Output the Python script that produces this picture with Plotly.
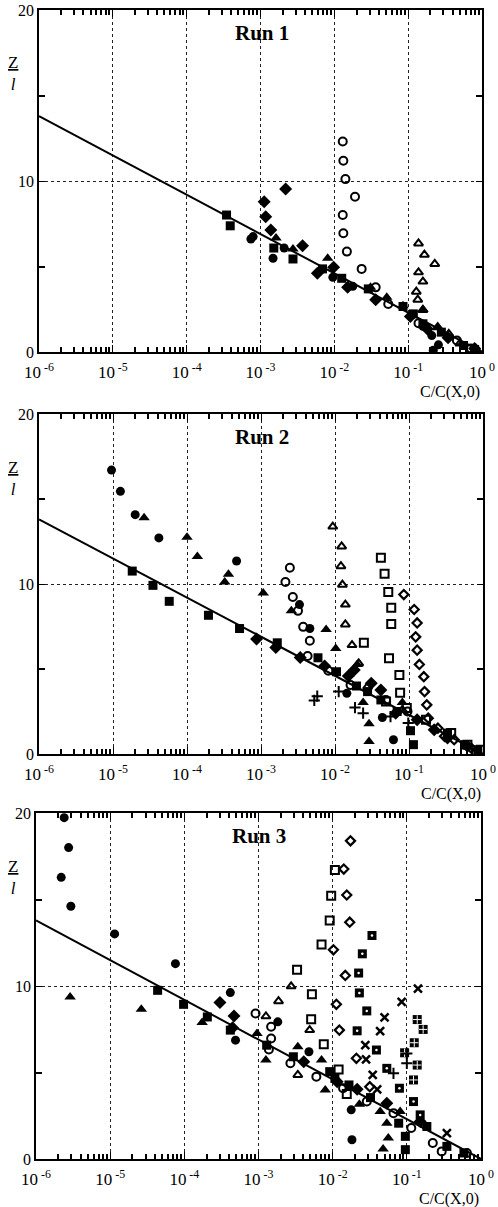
import plotly.graph_objects as go

# ---------------- data (x stored as log10 of C/C(X,0)) ----------------
line_logc = [-6.0, 0.0]
line_z = [13.8, 0.0]

# Run 1
r1_fcirc_logc = [-3.13, -3.10, -2.83, -2.68, -2.02, -1.75, -0.80, -0.68, -0.59, -0.66]
r1_fcirc_z = [6.61, 6.75, 5.48, 6.08, 4.37, 3.84, 1.50, 0.96, 0.42, 0.10]
r1_ftri_logc = [-2.79, -2.56, -2.09, -1.51, -1.29, -1.07, -0.80, -0.60, -0.08]
r1_ftri_z = [6.67, 6.02, 5.48, 3.78, 3.20, 2.71, 2.48, 1.45, 0.20]
r1_otri_logc = [-0.86, -0.78, -0.64, -0.86, -0.80, -0.89, -0.87, -0.80, -0.60, -0.45, -0.30]
r1_otri_z = [6.35, 5.69, 5.15, 4.66, 4.12, 3.53, 3.06, 2.46, 1.45, 1.06, 0.50]
r1_ocirc_logc = [-1.886, -1.878, -1.85, -1.72, -1.886, -1.878, -1.83, -1.63, -1.44, -1.27, -0.86, -0.34, -0.15]
r1_ocirc_z = [12.31, 11.18, 10.11, 9.08, 8.01, 6.94, 5.87, 4.86, 3.78, 2.81, 1.68, 0.67, 0.20]
r1_fsq_logc = [-3.46, -3.41, -2.82, -2.56, -2.16, -1.90, -1.54, -1.07, -0.93, -0.80, -0.55, -0.25, -0.10]
r1_fsq_z = [8.01, 7.38, 6.08, 5.44, 4.86, 4.31, 3.69, 2.66, 2.23, 1.65, 1.16, 0.38, 0.15]
r1_fdia_logc = [-2.95, -2.93, -2.86, -2.66, -2.43, -2.23, -2.01, -1.82, -1.44, -0.97, -0.74, -0.46, -0.10]
r1_fdia_z = [8.79, 7.91, 7.13, 9.53, 6.22, 4.60, 4.95, 3.78, 3.05, 2.07, 1.35, 0.84, 0.20]

# Run 2
r2_fcirc_logc = [-5.02, -4.90, -4.70, -4.38, -3.33, -2.48, -2.34, -1.84, -1.36, -1.21]
r2_fcirc_z = [16.70, 15.45, 14.08, 12.71, 11.35, 8.79, 7.38, 3.57, 2.15, 0.84]
r2_ftri_logc = [-4.58, -4.00, -3.86, -3.44, -3.49, -2.97, -2.59, -2.12, -1.99, -1.70, -1.62, -1.54, -1.54, -1.09]
r2_ftri_z = [13.89, 12.75, 11.62, 10.57, 10.12, 9.47, 8.42, 7.32, 6.21, 5.27, 3.03, 1.78, 0.74, 3.03]
r2_otri_logc = [-2.03, -1.91, -1.92, -1.90, -1.86, -1.86, -1.77, -1.68, -1.56, -1.09]
r2_otri_z = [13.38, 12.21, 11.05, 9.96, 8.79, 7.62, 6.41, 5.33, 3.96, 2.60]
r2_ocirc_logc = [-2.61, -2.67, -2.57, -2.50, -2.43, -2.34, -2.37, -2.09, -1.79, -1.31, -1.02]
r2_ocirc_z = [10.96, 10.12, 9.24, 8.42, 7.48, 6.66, 5.76, 4.90, 4.06, 3.18, 2.50]
r2_fsq_logc = [-4.74, -4.46, -4.24, -3.71, -3.29, -2.78, -2.23, -1.98, -1.71, -1.56, -1.38, -1.16, -0.98, -0.94, -0.48, -0.25, -0.07]
r2_fsq_z = [10.76, 9.92, 8.98, 8.16, 7.38, 6.54, 5.66, 4.84, 4.00, 3.67, 3.18, 2.50, 1.37, 0.55, 1.23, 0.55, 0.25]
r2_fdia_logc = [-3.06, -2.80, -2.47, -2.14, -1.82, -1.74, -1.51, -1.38, -1.18, -0.89, -0.66, -0.48, -0.21]
r2_fdia_z = [6.76, 6.27, 5.68, 5.18, 4.59, 4.94, 4.16, 3.77, 2.40, 2.01, 1.43, 0.94, 0.45]
r2_osq_logc = [-1.38, -1.33, -1.28, -1.24, -1.24, -1.61, -1.27, -1.13, -1.12, -1.31, -1.03, -0.77, -0.43, -0.21, -0.03]
r2_osq_z = [11.54, 10.61, 9.53, 8.61, 7.64, 6.54, 5.63, 4.65, 3.61, 3.09, 2.70, 2.01, 1.23, 0.55, 0.25]
r2_odia_logc = [-1.07, -0.93, -0.89, -0.91, -0.89, -0.86, -0.80, -0.79, -0.76, -0.74, -0.61, -0.52, -0.39, -0.16]
r2_odia_z = [9.38, 8.50, 7.71, 6.89, 6.11, 5.27, 4.55, 3.67, 2.89, 2.11, 1.52, 1.04, 0.84, 0.35]
r2_plus_logc = [-2.28, -2.24, -1.95, -1.73, -1.62, -1.25, -1.01]
r2_plus_z = [3.15, 3.40, 3.67, 2.73, 2.40, 2.20, 1.82]

# Run 3
r3_fcirc_logc = [-5.62, -5.56, -5.66, -5.53, -4.94, -4.12, -3.38, -3.31, -2.74, -2.32, -1.75, -1.74]
r3_fcirc_z = [19.73, 18.00, 16.28, 14.61, 13.01, 11.29, 9.62, 6.87, 7.93, 6.20, 2.84, 1.11]
r3_ftri_logc = [-5.54, -4.58, -3.76, -3.02, -2.90, -2.47, -2.15, -2.10, -1.64, -1.36, -1.27, -1.25, -1.32, -1.09]
r3_ftri_z = [9.37, 8.66, 7.89, 7.26, 5.72, 6.49, 5.72, 3.99, 3.17, 2.74, 2.07, 1.21, 0.58, 2.74]
r3_otri_logc = [-2.56, -2.73, -2.90, -2.31, -2.47]
r3_otri_z = [9.98, 9.12, 8.25, 7.45, 4.86]
r3_ocirc_logc = [-3.04, -2.83, -2.83, -2.86, -2.57, -2.22, -1.86, -1.54, -1.18, -0.94, -0.65, -0.53, -0.19]
r3_ocirc_z = [8.41, 7.64, 6.97, 6.33, 5.53, 4.76, 4.09, 3.32, 2.65, 1.79, 0.92, 0.44, 0.35]
r3_fsq_logc = [-4.36, -4.01, -3.69, -3.38, -2.89, -2.53, -2.04, -1.97, -1.78, -1.49, -1.11, -1.02, -1.02, -0.73, -0.46, -0.23]
r3_fsq_z = [9.75, 8.94, 8.21, 7.45, 6.58, 5.91, 5.05, 4.66, 4.28, 3.55, 2.07, 1.31, 0.54, 1.88, 0.73, 0.35]
r3_fdia_logc = [-3.52, -3.33, -3.35, -2.39, -1.94, -1.67, -1.27, -0.82]
r3_fdia_z = [9.04, 8.27, 7.58, 5.62, 4.47, 4.03, 3.22, 2.17]
r3_odia_logc = [-1.76, -1.85, -1.81, -1.77, -1.99, -1.83, -1.95, -1.91, -1.68, -1.50]
r3_odia_z = [18.39, 16.76, 15.26, 13.69, 12.09, 10.61, 8.94, 7.45, 5.82, 4.18]
r3_osq_logc = [-1.97, -2.02, -2.04, -2.15, -2.48, -2.28, -2.29, -2.12, -1.92, -1.81]
r3_osq_z = [16.70, 15.22, 13.78, 12.40, 10.94, 9.52, 8.08, 6.64, 5.18, 3.76]
r3_dsq_logc = [-1.47, -1.60, -1.65, -1.64, -1.54, -1.67, -1.41, -1.27, -1.10, -0.91, -0.82]
r3_dsq_z = [12.92, 11.86, 10.75, 9.60, 8.56, 7.41, 6.30, 5.24, 4.09, 3.32, 2.55]
r3_gsq_logc = [-0.86, -0.78, -0.90, -1.03, -0.86, -0.91]
r3_gsq_z = [8.06, 7.49, 6.72, 6.14, 5.43, 4.57]
r3_x_logc = [-0.85, -1.07, -1.30, -1.36, -1.56, -1.55, -1.46, -1.40, -0.46]
r3_x_z = [9.85, 9.08, 8.18, 7.39, 6.58, 5.76, 4.86, 4.03, 1.50]
r3_plus_logc = [-1.18, -1.00, -1.00]
r3_plus_z = [4.95, 6.10, 5.53]

run_titles = ["Run 1", "Run 2", "Run 3"]
x_tick_exps = [-6, -5, -4, -3, -2, -1, 0]
y_major = [0, 10, 20]
y_minor = [5, 15]

# ---------------- figure ----------------
W, H = 498, 1207
FONT = "Liberation Serif"
BLK = "black"

# panel pixel boxes: (left, right, top, bottom)
boxes = [(39, 482, 10, 352), (39, 483, 414, 754), (36, 481, 813, 1159)]

fig = go.Figure()

STY = {
    "fcirc": dict(symbol="circle", size=9, color=BLK, line=dict(width=0)),
    "ftri": dict(symbol="triangle-up", size=10, color=BLK, line=dict(width=0)),
    "otri": dict(symbol="triangle-up-open", size=8, color=BLK, line=dict(width=2, color=BLK)),
    "ocirc": dict(symbol="circle-open", size=8, color=BLK, line=dict(width=2, color=BLK)),
    "fsq": dict(symbol="square", size=9, color=BLK, line=dict(width=0)),
    "fdia": dict(symbol="diamond", size=10, color=BLK, line=dict(width=0)),
    "osq": dict(symbol="square-open", size=8, color=BLK, line=dict(width=2, color=BLK)),
    "odia": dict(symbol="diamond-open", size=7, color=BLK, line=dict(width=2.2, color=BLK)),
    "plus": dict(symbol="cross-thin-open", size=8, color=BLK, line=dict(width=2, color=BLK)),
    "x": dict(symbol="x-thin-open", size=8, color=BLK, line=dict(width=2.5, color=BLK)),
    "dsq": dict(symbol="square", size=9, color=BLK, line=dict(width=0)),
    "gsq": dict(symbol="square", size=9, color=BLK, line=dict(width=0)),
}


def add_series(i, logc, z, key):
    xa = "x" if i == 0 else f"x{i+1}"
    ya = "y" if i == 0 else f"y{i+1}"
    xs = [10 ** v for v in logc]
    fig.add_trace(go.Scatter(x=xs, y=z, mode="markers", marker=STY[key],
                             xaxis=xa, yaxis=ya, showlegend=False, hoverinfo="skip"))
    if key == "dsq":
        fig.add_trace(go.Scatter(x=xs, y=z, mode="markers",
                                 marker=dict(symbol="circle", size=2.5, color="white", line=dict(width=0)),
                                 xaxis=xa, yaxis=ya, showlegend=False, hoverinfo="skip"))
    if key == "gsq":
        fig.add_trace(go.Scatter(x=xs, y=z, mode="markers",
                                 marker=dict(symbol="cross-thin-open", size=6, color="white",
                                             line=dict(width=1, color="white")),
                                 xaxis=xa, yaxis=ya, showlegend=False, hoverinfo="skip"))


panels = [
    [(r1_fsq_logc, r1_fsq_z, "fsq"), (r1_fcirc_logc, r1_fcirc_z, "fcirc"), (r1_fdia_logc, r1_fdia_z, "fdia"),
     (r1_ftri_logc, r1_ftri_z, "ftri"), (r1_ocirc_logc, r1_ocirc_z, "ocirc"), (r1_otri_logc, r1_otri_z, "otri")],
    [(r2_fsq_logc, r2_fsq_z, "fsq"), (r2_fcirc_logc, r2_fcirc_z, "fcirc"), (r2_fdia_logc, r2_fdia_z, "fdia"),
     (r2_ftri_logc, r2_ftri_z, "ftri"), (r2_ocirc_logc, r2_ocirc_z, "ocirc"), (r2_otri_logc, r2_otri_z, "otri"),
     (r2_osq_logc, r2_osq_z, "osq"), (r2_odia_logc, r2_odia_z, "odia"), (r2_plus_logc, r2_plus_z, "plus")],
    [(r3_fsq_logc, r3_fsq_z, "fsq"), (r3_fcirc_logc, r3_fcirc_z, "fcirc"), (r3_fdia_logc, r3_fdia_z, "fdia"),
     (r3_ftri_logc, r3_ftri_z, "ftri"), (r3_ocirc_logc, r3_ocirc_z, "ocirc"), (r3_otri_logc, r3_otri_z, "otri"),
     (r3_osq_logc, r3_osq_z, "osq"), (r3_odia_logc, r3_odia_z, "odia"), (r3_dsq_logc, r3_dsq_z, "dsq"),
     (r3_gsq_logc, r3_gsq_z, "gsq"), (r3_x_logc, r3_x_z, "x"), (r3_plus_logc, r3_plus_z, "plus")],
]

x_tickvals = [10 ** e for e in x_tick_exps]
x_ticktext = [f"10<sup> {e}</sup>" for e in x_tick_exps]
x_minor = [k * 10 ** e for e in x_tick_exps[:-1] for k in range(2, 10)]

annotations = []
layout_axes = {}
for i, (l, r, t, b) in enumerate(boxes):
    xa = "x" if i == 0 else f"x{i+1}"
    ya = "y" if i == 0 else f"y{i+1}"
    # theoretical line
    fig.add_trace(go.Scatter(x=[10 ** v for v in line_logc], y=line_z, mode="lines",
                             line=dict(color=BLK, width=2), xaxis=xa, yaxis=ya,
                             showlegend=False, hoverinfo="skip"))
    for logc, z, key in panels[i]:
        add_series(i, logc, z, key)

    xd = [l / W, r / W]
    yd = [1 - b / H, 1 - t / H]
    xname = "xaxis" if i == 0 else f"xaxis{i+1}"
    yname = "yaxis" if i == 0 else f"yaxis{i+1}"
    layout_axes[xname] = dict(
        type="log", range=[-6, 0], domain=xd, anchor=ya, automargin=False,
        tickmode="array", tickvals=x_tickvals, ticktext=x_ticktext, ticks="inside", ticklen=7, tickwidth=1.4,
        tickcolor=BLK, showline=True, linecolor=BLK, linewidth=1.8, mirror="ticks",
        showgrid=True, gridcolor="#222", griddash="dot", gridwidth=1, zeroline=False,
        tickfont=dict(family=FONT, size=17, color=BLK), ticklabelstandoff=4,
        minor=dict(tickmode="array", tickvals=x_minor, ticks="inside", ticklen=5, tickwidth=1.5,
                   tickcolor=BLK, showgrid=False),
    )
    layout_axes[yname] = dict(
        range=[0, 20], domain=yd, anchor=xa, automargin=False,
        tickmode="array", tickvals=y_major, ticktext=[str(v) for v in y_major], ticks="inside", ticklen=6,
        tickwidth=1.4, tickcolor=BLK, showline=True, linecolor=BLK, linewidth=1.8, mirror="ticks",
        showgrid=True, gridcolor="#222", griddash="dot", gridwidth=1, zeroline=False,
        tickfont=dict(family=FONT, size=16, color=BLK),
        minor=dict(tickmode="array", tickvals=y_minor, ticks="inside", ticklen=6, tickwidth=1.5,
                   tickcolor=BLK, showgrid=False),
    )
    # run title
    annotations.append(dict(text=f"<b>{run_titles[i]}</b>", x=(l + 223) / W, y=1 - (t + 23) / H,
                            xref="paper", yref="paper", showarrow=False, xanchor="center", yanchor="middle",
                            font=dict(family=FONT, size=21, color=BLK)))
    # y-axis label Z/l
    annotations.append(dict(text="<u>Z</u><br><i>l</i>", x=13 / W, y=1 - (t + 64) / H,
                            xref="paper", yref="paper", showarrow=False, xanchor="center", yanchor="middle",
                            font=dict(family=FONT, size=17, color=BLK)))
    # x-axis label
    annotations.append(dict(text="C/C(X,0)", x=r / W, y=1 - (b + 40) / H,
                            xref="paper", yref="paper", showarrow=False, xanchor="right", yanchor="middle",
                            font=dict(family=FONT, size=16, color=BLK)))

fig.update_layout(
    width=W, height=H, margin=dict(l=0, r=0, t=0, b=0, pad=0),
    paper_bgcolor="white", plot_bgcolor="white",
    showlegend=False, annotations=annotations, **layout_axes,
)

fig.write_html("out.html", config={"displayModeBar": False},
               post_script="document.body.style.margin='0';document.body.style.overflow='hidden';")
